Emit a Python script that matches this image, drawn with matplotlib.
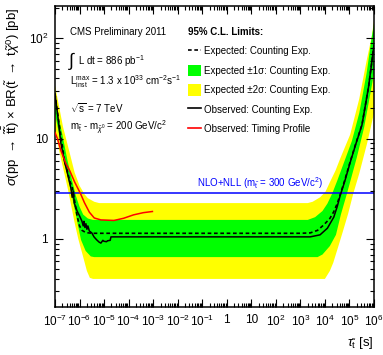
import numpy as np
import matplotlib
matplotlib.use('Agg')
import matplotlib.pyplot as plt
from matplotlib.lines import Line2D
from matplotlib.patches import Patch
from matplotlib.ticker import LogLocator, FuncFormatter, NullFormatter

plt.rcParams['font.family'] = ['Liberation Sans', 'DejaVu Sans']
plt.rcParams['mathtext.fontset'] = 'custom'
plt.rcParams['mathtext.rm'] = 'Liberation Sans'
plt.rcParams['mathtext.it'] = 'Liberation Sans:italic'
plt.rcParams['mathtext.bf'] = 'Liberation Sans:bold'
plt.rcParams['mathtext.sf'] = 'Liberation Sans'

# lifetimes are given as log10(tau / s), limits in pb
exp_logtau = [-7.0, -6.85, -6.62, -6.4, -6.3, -6.2, -6.1, -6.0, -5.9, -5.75, -5.5,
              3.0, 3.4, 3.7, 3.95, 4.2, 4.36, 4.5, 4.63, 4.8, 5.03, 5.25, 5.51, 5.78, 5.96, 6.0]
exp_limit = [28, 15, 6.2, 3.8, 3.3, 2.4, 1.7, 1.35, 1.22, 1.16, 1.14,
             1.14, 1.15, 1.22, 1.38, 1.6, 1.87, 2.25, 2.8, 3.8, 5.9, 8.8, 13.8, 33, 72, 85]

obs_logtau = [-7.0, -6.9, -6.76, -6.62, -6.5, -6.4, -6.35, -6.3, -6.25, -6.22, -6.1, -6.0,
              -5.9, -5.85, -5.82, -5.78, -5.74, -5.7, -5.66, -5.6, -5.5, -5.41, -5.3, -5.2,
              -5.13, -5.05, -5.01, -4.9, -4.86, -4.75, -4.72,
              3.4, 3.8, 4.1, 4.36, 4.5, 4.63, 4.8, 5.03, 5.25, 5.51, 5.78, 5.96, 6.0]
obs_limit = [28, 18, 9, 6.0, 4.6, 3.6, 3.2, 2.6, 3.0, 2.3, 1.9, 1.7,
             1.5, 1.35, 1.5, 1.3, 1.42, 1.25, 1.35, 1.2, 1.15, 1.05, 0.98, 0.93,
             0.91, 0.97, 0.95, 0.94, 0.96, 0.97, 1.05,
             1.05, 1.1, 1.28, 1.65, 2.1, 2.75, 3.7, 5.8, 8.7, 13.7, 33, 72, 85]

g_hi_logtau = [-7.0, -6.7, -6.5, -6.3, -6.15, -6.0, -5.85, -5.66, -5.45,
               3.3, 3.6, 3.9, 4.1, 4.3, 4.5, 4.8, 5.1, 5.4, 5.7, 5.9, 6.0]
g_hi = [24, 11, 6.2, 3.8, 2.7, 2.1, 1.75, 1.6, 1.55,
        1.55, 1.65, 1.9, 2.25, 2.85, 3.8, 6.0, 9.5, 18, 45, 100, 140]
g_lo_logtau = [-7.0, -6.8, -6.6, -6.4, -6.2, -6.0, -5.94, -5.75, -5.54, -5.4,
               3.7, 3.9, 4.2, 4.45, 4.65, 4.9, 5.1, 5.3, 5.6, 5.85, 6.0]
g_lo = [18, 10, 5.5, 3.4, 2.0, 1.15, 0.98, 0.76, 0.67, 0.66,
        0.66, 0.7, 0.85, 1.1, 1.75, 2.85, 4.3, 6.5, 13, 28, 45]

y_hi_logtau = [-7.0, -6.67, -6.4, -6.2, -6.0, -5.8, -5.66, -5.4, -5.2,
               3.3, 3.5, 3.8, 4.02, 4.22, 4.43, 4.63, 5.03, 5.4, 5.7, 5.91, 6.0]
y_hi = [34, 13, 7.2, 4.6, 3.4, 2.8, 2.55, 2.35, 2.28,
        2.28, 2.35, 2.6, 2.95, 3.76, 4.8, 6.4, 11, 25, 60, 105, 150]
y_lo_logtau = [-7.0, -6.8, -6.6, -6.47, -6.2, -6.05, -5.85, -5.7, -5.58, -5.45,
               4.0, 4.2, 4.34, 4.55, 4.75, 4.95, 5.15, 5.4, 5.72, 6.0]
y_lo = [12, 7, 4.3, 3.1, 1.45, 1.0, 0.66, 0.48, 0.41, 0.40,
        0.40, 0.48, 0.58, 0.85, 1.23, 1.8, 2.8, 4.5, 9, 18]

timing_logtau = [-7.0, -6.9, -6.75, -6.55, -6.4, -6.2, -5.95, -5.8, -5.6, -5.4,
                 -5.13, -4.6, -4.2, -3.8, -3.4, -3.03]
timing_limit = [11.5, 10, 7.5, 5.6, 4.8, 3.7, 2.8, 2.3, 1.85, 1.62,
                1.55, 1.53, 1.61, 1.74, 1.83, 1.88]

nlo_xsec = 2.85  # NLO+NLL, m_stop = 300 GeV


def band(ax, lx_hi, v_hi, lx_lo, v_lo, color):
    x = np.concatenate([10.0 ** np.array(lx_hi), (10.0 ** np.array(lx_lo))[::-1]])
    y = np.concatenate([np.array(v_hi), np.array(v_lo)[::-1]])
    ax.fill(x, y, color=color, lw=0, zorder=1)


def decade_label(v, pos):
    e = int(round(np.log10(v)))
    if e == 0:
        return '1'
    if e == 1:
        return '10'
    return r'$10^{%d}$' % e


fig = plt.figure(figsize=(3.83, 3.55), dpi=100)
ax = fig.add_axes([0.1436, 0.1352, 0.8329, 0.8479])

band(ax, y_hi_logtau, y_hi, y_lo_logtau, y_lo, '#ffff00')
band(ax, g_hi_logtau, g_hi, g_lo_logtau, g_lo, '#00ff00')
ax.axhline(nlo_xsec, color='#0000ff', lw=1.1, zorder=2)
ax.plot(10.0 ** np.array(exp_logtau), exp_limit, color='k', lw=1.2,
        ls=(0, (2.2, 1.6)), zorder=3)
ax.plot(10.0 ** np.array(obs_logtau), obs_limit, color='k', lw=1.1, zorder=4)
ax.plot(10.0 ** np.array(timing_logtau), timing_limit, color='#ff0000', lw=1.1, zorder=5)

ax.set_xscale('log')
ax.set_yscale('log')
ax.set_xlim(1e-7, 1e6)
ax.set_ylim(0.21, 210)

ax.xaxis.set_major_locator(LogLocator(base=10, numticks=30))
ax.xaxis.set_minor_locator(LogLocator(base=10, subs=np.arange(2, 10), numticks=200))
ax.xaxis.set_major_formatter(FuncFormatter(decade_label))
ax.xaxis.set_minor_formatter(NullFormatter())
ax.yaxis.set_major_locator(LogLocator(base=10, numticks=10))
ax.yaxis.set_minor_locator(LogLocator(base=10, subs=np.arange(2, 10), numticks=100))
ax.yaxis.set_major_formatter(FuncFormatter(decade_label))
ax.yaxis.set_minor_formatter(NullFormatter())
ax.tick_params(which='both', direction='in', top=True, right=True, width=0.8)
ax.tick_params(which='major', length=6, labelsize=8.5, pad=5)
ax.tick_params(which='minor', length=3)
for s in ax.spines.values():
    s.set_linewidth(1.1)

ax.set_ylabel(r'$\sigma$(pp $\rightarrow$ $\tilde{\rm t}\bar{\tilde{\rm t}}$) $\times$ BR($\tilde{\rm t}$ $\rightarrow$ t$\tilde{\chi}^{0}$) [pb]',
              fontsize=9.5, loc='top')
ax.yaxis.set_label_coords(-0.103, 0.995)
ax.set_xlabel(r'$\tau_{\tilde{\rm t}}$ [s]', fontsize=9.5, loc='right', labelpad=4)

tf = ax.transAxes
ax.text(0.047, 0.914, 'CMS Preliminary 2011', transform=tf, fontsize=7, va='center')
ax.text(0.040, 0.818, r'$\int$', transform=tf, fontsize=13, va='center')
ax.text(0.072, 0.818, r'L dt = 886 pb$^{-1}$', transform=tf, fontsize=7, va='center')
ax.text(0.047, 0.748, r'L$_{\rm inst}^{\rm max}$ = 1.3 x 10$^{33}$ cm$^{-2}$s$^{-1}$',
        transform=tf, fontsize=7, va='center')
ax.text(0.047, 0.661, r'$\sqrt{\rm s}$ = 7 TeV', transform=tf, fontsize=7, va='center')
ax.text(0.047, 0.595, r'm$_{\tilde{\rm t}}$ - m$_{\tilde{\chi}^{0}}$ = 200 GeV/c$^{2}$',
        transform=tf, fontsize=7, va='center')
ax.text(0.445, 0.41, r'NLO+NLL (m$_{\tilde{\rm t}}$ = 300 GeV/c$^{2}$)', transform=tf,
        fontsize=7, va='center', color='#0000ff')

handles = [Line2D([], [], color='k', lw=1.2, ls=(0, (2.2, 1.6))),
           Patch(fc='#00ff00', ec='none'),
           Patch(fc='#ffff00', ec='none'),
           Line2D([], [], color='k', lw=1.2),
           Line2D([], [], color='#ff0000', lw=1.2)]
labels = ['Expected: Counting Exp.',
          'Expected ±1σ: Counting Exp.',
          'Expected ±2σ: Counting Exp.',
          'Observed: Counting Exp.',
          'Observed: Timing Profile']
leg = ax.legend(handles, labels, loc='upper left', bbox_to_anchor=(0.405, 0.943),
                frameon=False, fontsize=7, handlelength=1.3, handleheight=1.4,
                handletextpad=0.3, labelspacing=0.85, borderaxespad=0,
                title='95% C.L. Limits:', alignment='left',
                title_fontproperties={'weight': 'bold', 'size': 7})

fig.savefig('out.png', dpi=100)
